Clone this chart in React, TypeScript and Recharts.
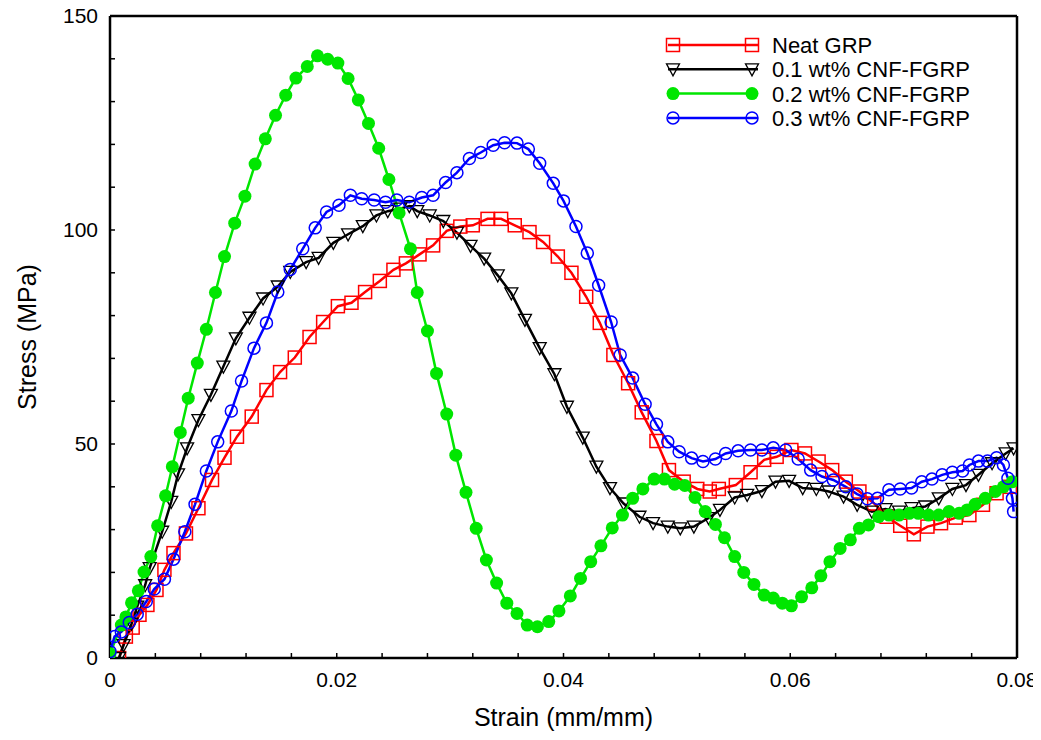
import React from 'react';
import { LineChart, Line, XAxis, YAxis, ReferenceLine, Legend } from 'recharts';

const neatStrain = [0.0008,0.0014,0.0020,0.0026,0.0033,0.0041,0.0048,0.0056,0.0067,0.0078,0.0090,0.0101,0.0112,0.0125,0.0138,0.0150,0.0163,0.0176,0.0188,0.0201,0.0213,0.0225,0.0238,0.0250,0.0261,0.0273,0.0285,0.0297,0.0309,0.0320,0.0333,0.0345,0.0357,0.0370,0.0382,0.0395,0.0407,0.0420,0.0432,0.0444,0.0457,0.0469,0.0482,0.0493,0.0506,0.0518,0.0529,0.0537,0.0552,0.0565,0.0577,0.0588,0.0601,0.0613,0.0625,0.0637,0.0649,0.0661,0.0674,0.0685,0.0697,0.0709,0.0721,0.0733,0.0746,0.0758,0.0770,0.0782,0.0794];
const neatStress = [0,5.0,7.1,10.1,12.4,15.9,20.6,24.5,29.1,35.0,41.6,46.8,51.7,56.4,62.6,66.8,70.2,75.0,78.5,82.2,83.0,85.5,88.1,90.7,92.2,94.3,96.4,99.8,100.8,101.1,102.6,102.6,101.1,99.5,97.2,93.8,90.0,84.4,78.3,70.8,64.2,57.4,50.7,43.9,41.2,39.5,38.9,39.5,40.4,43.4,46.3,47.0,48.6,47.8,45.9,43.9,41.2,38.9,36.1,33.0,30.9,28.9,30.7,31.5,32.8,33.4,35.8,38.5,40.0];

const cnf01Strain = [0.0008,0.0012,0.0019,0.0024,0.0031,0.0035,0.0046,0.0054,0.0060,0.0068,0.0078,0.0089,0.0100,0.0111,0.0123,0.0135,0.0148,0.0159,0.0173,0.0184,0.0197,0.0210,0.0223,0.0235,0.0245,0.0256,0.0264,0.0271,0.0282,0.0294,0.0306,0.0318,0.0330,0.0342,0.0354,0.0366,0.0379,0.0392,0.0403,0.0417,0.0429,0.0441,0.0453,0.0467,0.0479,0.0492,0.0503,0.0515,0.0528,0.0538,0.0551,0.0562,0.0575,0.0587,0.0599,0.0611,0.0623,0.0634,0.0647,0.0659,0.0672,0.0684,0.0696,0.0707,0.0719,0.0731,0.0743,0.0755,0.0766,0.0778,0.0790,0.0797];
const cnf01Stress = [0,3.0,8.0,12.0,17.0,21.0,29.5,36.5,42.9,49.0,55.6,61.5,68.1,74.7,79.5,84.0,86.8,90.2,92.5,93.5,97.0,99.0,100.9,103.4,104.4,105.0,105.6,104.4,103.4,102.1,99.4,96.3,93.3,89.4,85.2,79.0,72.4,66.3,58.7,51.5,44.7,39.7,36.1,33.0,31.5,30.7,30.3,30.7,32.7,34.6,37.5,38.1,39.0,41.2,41.4,39.7,39.5,38.9,37.7,35.8,34.2,34.8,34.2,35.0,35.4,37.3,39.5,40.4,42.8,45.5,47.8,49.0];

const cnf02Strain = [0,0.0010,0.0014,0.0019,0.0025,0.0030,0.0036,0.0042,0.0049,0.0055,0.0062,0.0069,0.0077,0.0085,0.0093,0.0101,0.0110,0.0119,0.0128,0.0137,0.0146,0.0155,0.0164,0.0174,0.0183,0.0192,0.0201,0.0210,0.0219,0.0228,0.0237,0.0246,0.0255,0.0265,0.0271,0.0280,0.0288,0.0297,0.0305,0.0314,0.0323,0.0332,0.0341,0.0350,0.0359,0.0368,0.0377,0.0387,0.0396,0.0406,0.0415,0.0424,0.0433,0.0443,0.0452,0.0461,0.0470,0.0480,0.0489,0.0498,0.0507,0.0516,0.0525,0.0534,0.0542,0.0551,0.0559,0.0568,0.0577,0.0585,0.0593,0.0601,0.0610,0.0619,0.0627,0.0635,0.0644,0.0653,0.0661,0.0669,0.0678,0.0687,0.0696,0.0705,0.0713,0.0722,0.0731,0.0740,0.0749,0.0756,0.0763,0.0772,0.0781,0.0788,0.0796];
const cnf02Stress = [1,7.7,9.6,12.9,15.7,20.1,23.7,30.9,37.9,44.7,52.7,60.7,68.9,76.8,85.4,93.8,101.6,107.9,115.4,121.3,126.8,131.5,135.5,138.2,140.7,139.9,139.0,135.4,130.4,124.9,119.1,111.8,104.0,95.6,85.4,76.4,66.5,57.0,47.4,38.7,30.3,22.9,17.5,12.8,10.4,7.7,7.3,8.5,11.0,14.5,18.6,22.5,26.2,30.4,33.4,37.3,39.5,41.8,41.8,40.6,40.3,37.5,34.2,31.2,28.1,23.7,20.0,17.2,14.7,14.0,12.8,12.2,14.3,16.4,19.2,22.5,25.6,27.6,30.3,31.1,33.0,33.4,33.4,33.8,33.8,33.4,33.4,34.2,33.8,34.6,35.9,37.3,38.9,40.0,41.2];

const cnf03Strain = [0,0.0004,0.0010,0.0017,0.0024,0.0032,0.0039,0.0048,0.0056,0.0066,0.0075,0.0085,0.0095,0.0107,0.0116,0.0127,0.0138,0.0148,0.0159,0.0170,0.0181,0.0191,0.0202,0.0212,0.0222,0.0233,0.0243,0.0253,0.0264,0.0275,0.0285,0.0296,0.0306,0.0317,0.0327,0.0338,0.0348,0.0359,0.0369,0.0379,0.0391,0.0400,0.0411,0.0421,0.0431,0.0442,0.0450,0.0461,0.0472,0.0482,0.0492,0.0502,0.0513,0.0523,0.0534,0.0543,0.0554,0.0565,0.0575,0.0585,0.0596,0.0607,0.0618,0.0628,0.0638,0.0649,0.0659,0.0668,0.0677,0.0687,0.0697,0.0707,0.0716,0.0725,0.0734,0.0743,0.0752,0.0758,0.0766,0.0774,0.0782,0.0788,0.0792,0.0796,0.0797];
const cnf03Stress = [1.5,5.0,6.1,8.3,10.2,13.2,16.1,18.4,23.1,29.5,35.9,43.7,50.5,57.7,64.7,72.4,78.3,85.5,90.8,95.6,100.5,104.2,105.8,108.1,107.3,107.0,106.5,107.0,106.5,107.6,108.1,111.1,113.4,116.7,118.1,119.8,120.4,120.3,118.9,115.6,110.9,106.8,100.8,94.6,87.1,78.5,70.8,65.4,59.3,54.6,50.5,48.2,46.7,45.9,46.5,47.8,48.4,48.6,48.6,49.1,48.6,46.5,43.9,42.4,41.6,40.0,38.3,37.2,37.3,39.3,39.5,39.7,41.2,41.8,42.8,43.4,43.7,45.1,46.0,46.0,46.8,45.1,42.0,37.3,34.2];

const seriesNames = ['Neat GRP', '0.1 wt% CNF-FGRP', '0.2 wt% CNF-FGRP', '0.3 wt% CNF-FGRP'];
const xTicks = [0,0.004,0.008,0.012,0.016,0.02,0.024,0.028,0.032,0.036,0.04,0.044,0.048,0.052,0.056,0.06,0.064,0.068,0.072,0.076,0.08];
const yTicks = [0,10,20,30,40,50,60,70,80,90,100,110,120,130,140,150];

const toPoints = (xs: number[], ys: number[]) => xs.map((x, i) => ({ x, y: ys[i] }));
const neatData = toPoints(neatStrain, neatStress);
const cnf01Data = toPoints(cnf01Strain, cnf01Stress);
const cnf02Data = toPoints(cnf02Strain, cnf02Stress);
const cnf03Data = toPoints(cnf03Strain, cnf03Stress);

const RED = '#ff0000';
const BLACK = '#000000';
const GREEN = '#00e600';
const BLUE = '#0000ff';
const FONT = 'Arial, "Liberation Sans", sans-serif';

const SquareMark = ({ cx, cy }: any) => (
  <rect x={cx - 6.5} y={cy - 6.5} width={13} height={13} fill="none" stroke={RED} strokeWidth={1.5} />
);
const TriMark = ({ cx, cy }: any) => (
  <polygon points={`${cx - 6.5},${cy - 5.5} ${cx + 6.5},${cy - 5.5} ${cx},${cy + 6.5}`} fill="none" stroke={BLACK} strokeWidth={1.3} />
);
const DiscMark = ({ cx, cy }: any) => <circle cx={cx} cy={cy} r={6.5} fill={GREEN} stroke="none" />;
const RingMark = ({ cx, cy }: any) => <circle cx={cx} cy={cy} r={6} fill="none" stroke={BLUE} strokeWidth={1.5} />;

const dotFn = (Comp: any) => (p: any) => {
  if (p.cx == null || p.cy == null) return <g key={`e${p.index}`} />;
  return <Comp key={`d${p.index}`} cx={p.cx} cy={p.cy} />;
};

const legendRows = [
  { color: RED, Mark: SquareMark },
  { color: BLACK, Mark: TriMark },
  { color: GREEN, Mark: DiscMark },
  { color: BLUE, Mark: RingMark },
];

const LegendBox = () => (
  <svg width={360} height={110} style={{ display: 'block', overflow: 'visible' }}>
    {legendRows.map((r, i) => {
      const y = 17 + i * 24.3;
      return (
        <g key={i}>
          <line x1={10} x2={100} y1={y} y2={y} stroke={r.color} strokeWidth={2.5} />
          <r.Mark cx={15} cy={y} />
          <r.Mark cx={94} cy={y} />
          <text x={114} y={y} dy="0.36em" fontSize={22} fontFamily={FONT} fill="#000">{seriesNames[i]}</text>
        </g>
      );
    })}
  </svg>
);

const isMajorX = (v: number) => Math.abs(v / 0.02 - Math.round(v / 0.02)) < 1e-6;

export default function App() {
  return (
    <div style={{ margin: -8, width: 1041, height: 740 }}>
      <LineChart width={1041} height={740} margin={{ top: 16, right: 24, left: 0, bottom: 0 }}>
        <XAxis
          dataKey="x"
          type="number"
          domain={[0, 0.08]}
          ticks={xTicks}
          interval={0}
          allowDataOverflow
          tickFormatter={(v: number) => (isMajorX(v) ? String(v) : '')}
          tickSize={-5}
          tickMargin={19}
          height={82}
          axisLine={{ stroke: '#000', strokeWidth: 2.5 }}
          tickLine={{ stroke: '#000', strokeWidth: 1.5 }}
          tick={{ fill: '#000', fontSize: 21, fontFamily: FONT }}
          label={{ value: 'Strain (mm/mm)', position: 'insideBottom', offset: 14, fill: '#000', fontSize: 25, fontFamily: FONT }}
        />
        <YAxis
          type="number"
          domain={[0, 150]}
          ticks={yTicks}
          interval={0}
          allowDataOverflow
          tickFormatter={(v: number) => (v % 50 === 0 ? String(v) : '')}
          tickSize={-5}
          tickMargin={17}
          width={110}
          axisLine={{ stroke: '#000', strokeWidth: 2.5 }}
          tickLine={{ stroke: '#000', strokeWidth: 1.5 }}
          tick={{ fill: '#000', fontSize: 21, fontFamily: FONT }}
          label={{ value: 'Stress (MPa)', angle: -90, position: 'insideLeft', offset: 27, textAnchor: 'middle', fill: '#000', fontSize: 25, fontFamily: FONT }}
        />
        <ReferenceLine y={150} stroke="#000" strokeWidth={2.5} ifOverflow="visible" />
        <ReferenceLine x={0.08} stroke="#000" strokeWidth={2.5} ifOverflow="visible" />
        <Line data={neatData} dataKey="y" name={seriesNames[0]} type="linear" stroke={RED} strokeWidth={2.5} dot={dotFn(SquareMark)} activeDot={false} isAnimationActive={false} />
        <Line data={cnf01Data} dataKey="y" name={seriesNames[1]} type="linear" stroke={BLACK} strokeWidth={2.5} dot={dotFn(TriMark)} activeDot={false} isAnimationActive={false} />
        <Line data={cnf02Data} dataKey="y" name={seriesNames[2]} type="linear" stroke={GREEN} strokeWidth={2.5} dot={dotFn(DiscMark)} activeDot={false} isAnimationActive={false} />
        <Line data={cnf03Data} dataKey="y" name={seriesNames[3]} type="linear" stroke={BLUE} strokeWidth={2.5} dot={dotFn(RingMark)} activeDot={false} isAnimationActive={false} />
        <Legend
          layout="horizontal"
          verticalAlign="middle"
          align="center"
          wrapperStyle={{ position: 'absolute', left: 658, top: 28, width: 360, height: 110 }}
          content={() => <LegendBox />}
        />
      </LineChart>
    </div>
  );
}
